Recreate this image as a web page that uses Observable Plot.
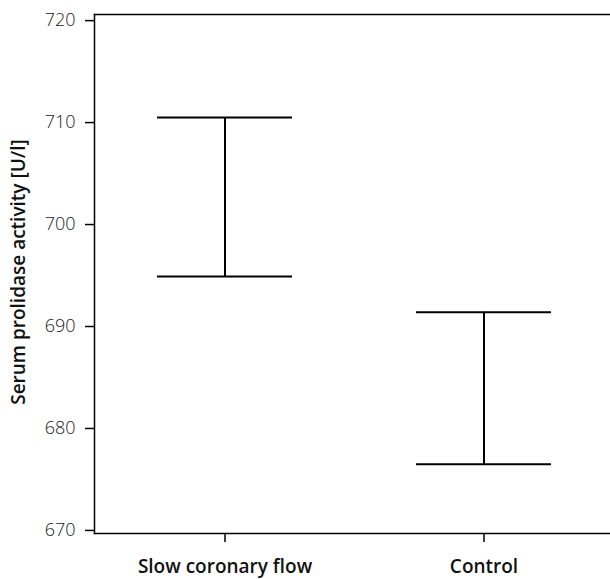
<!DOCTYPE html>
<html>
<head>
<meta charset="utf-8">
<script src="https://cdn.jsdelivr.net/npm/d3@7"></script>
<script src="https://cdn.jsdelivr.net/npm/@observablehq/plot@0.6"></script>
<style>
  html, body { margin: 0; padding: 0; background: #fff; overflow: hidden; }
  #chart { width: 610px; height: 579px; overflow: hidden; }
</style>
</head>
<body>
<div id="chart"></div>
<script>
const categories = ["Slow coronary flow", "Control"];
const lower = [694.9, 676.5];
const upper = [710.5, 691.4];
const yTicks = [670, 680, 690, 700, 710, 720];
const yLabel = "Serum prolidase activity [U/l]";

const data = categories.map((c, i) => ({group: c, lo: lower[i], hi: upper[i]}));

const fontFamily = "'Open Sans', 'Noto Sans', sans-serif";

const plot = Plot.plot({
  width: 610,
  height: 579,
  marginTop: 14,
  marginBottom: 46,
  marginLeft: 94,
  marginRight: 0,
  style: {fontFamily, background: "white", overflow: "hidden"},
  x: {
    type: "band",
    domain: categories,
    range: [94.3, 613],
    paddingInner: 0.48,
    paddingOuter: 0.24,
    label: null
  },
  y: {
    domain: [669.7, 720.6],
    label: null
  },
  marks: [
    Plot.frame({anchor: "top", stroke: "black", strokeWidth: 1.5}),
    Plot.frame({anchor: "bottom", stroke: "black", strokeWidth: 1.5}),
    Plot.frame({anchor: "left", stroke: "black", strokeWidth: 1.5}),
    Plot.axisY({
      ticks: yTicks,
      tickSize: 9,
      tickPadding: 10,
      fontSize: 18,
      fontWeight: 300,
      color: "#222",
      stroke: "black",
      strokeWidth: 1.5,
      label: null
    }),
    Plot.axisX({
      tickSize: 9,
      tickPadding: 17,
      fontSize: 19,
      fontWeight: 600,
      color: "#111",
      stroke: "black",
      strokeWidth: 1.5,
      label: null
    }),
    Plot.ruleX(data, {x: "group", y1: "lo", y2: "hi", stroke: "black", strokeWidth: 2}),
    Plot.tickY(data, {x: "group", y: "lo", stroke: "black", strokeWidth: 2}),
    Plot.tickY(data, {x: "group", y: "hi", stroke: "black", strokeWidth: 2})
  ]
});

// y-axis title
d3.select(plot).append("text")
  .attr("transform", "translate(18,272) rotate(-90)")
  .attr("text-anchor", "middle")
  .attr("dominant-baseline", "central")
  .attr("font-family", fontFamily)
  .attr("font-size", 19)
  .attr("font-weight", 600)
  .attr("fill", "#111")
  .text(yLabel);

document.getElementById("chart").appendChild(plot);
</script>
</body>
</html>
